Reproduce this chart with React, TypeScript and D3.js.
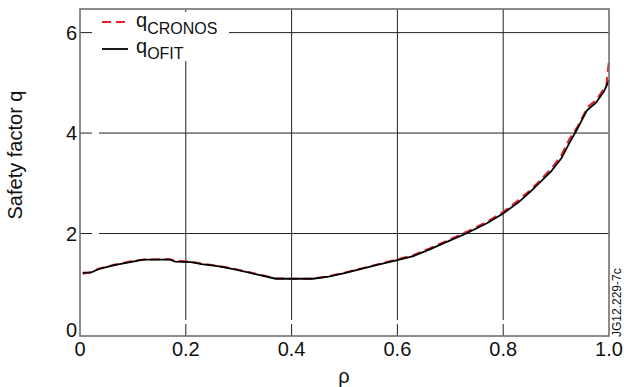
import React from 'react'
import * as d3 from 'd3'

// ρ grid and q profiles
const rhoOfit = [0.005, 0.02, 0.035, 0.05, 0.065, 0.08, 0.1, 0.12, 0.15, 0.17, 0.18, 0.21, 0.23, 0.26, 0.29, 0.32, 0.34, 0.37, 0.4, 0.44, 0.47, 0.5, 0.53, 0.56, 0.6, 0.63, 0.66, 0.69, 0.73, 0.77, 0.8, 0.83, 0.855, 0.89, 0.91, 0.925, 0.94, 0.958, 0.975, 0.99, 1.0]
const qOfit = [1.22, 1.22, 1.29, 1.33, 1.37, 1.4, 1.44, 1.48, 1.48, 1.48, 1.44, 1.43, 1.39, 1.35, 1.29, 1.22, 1.17, 1.1, 1.1, 1.1, 1.14, 1.21, 1.29, 1.37, 1.47, 1.55, 1.68, 1.82, 2.0, 2.21, 2.4, 2.63, 2.87, 3.23, 3.5, 3.8, 4.08, 4.45, 4.6, 4.82, 5.05]

const rhoCronos = [0.005, 0.02, 0.035, 0.05, 0.065, 0.08, 0.1, 0.12, 0.15, 0.17, 0.18, 0.21, 0.23, 0.26, 0.29, 0.32, 0.34, 0.37, 0.4, 0.44, 0.47, 0.5, 0.53, 0.56, 0.6, 0.63, 0.66, 0.69, 0.73, 0.77, 0.8, 0.83, 0.855, 0.89, 0.91, 0.925, 0.94, 0.96, 0.975, 0.995, 1.0]
const qCronos = [1.2, 1.23, 1.3, 1.34, 1.38, 1.41, 1.46, 1.48, 1.49, 1.49, 1.46, 1.44, 1.4, 1.36, 1.3, 1.23, 1.18, 1.11, 1.1, 1.1, 1.15, 1.22, 1.3, 1.38, 1.49, 1.57, 1.7, 1.84, 2.03, 2.24, 2.43, 2.67, 2.9, 3.28, 3.56, 3.88, 4.12, 4.52, 4.65, 4.95, 5.45]

const xTicks = [0, 0.2, 0.4, 0.6, 0.8, 1.0]
const yTicks = [0, 2, 4, 6]

const FONT = "'Liberation Sans', Arial, sans-serif"

export default function App() {
  const left = 80, right = 609, top = 9, bottom = 336
  const x = d3.scaleLinear().domain([0, 1]).range([left, right])
  const y = d3.scaleLinear().domain([-0.04, 6.47]).range([bottom, top])

  const lineGen = d3.line<[number, number]>()
    .x(d => x(d[0]))
    .y(d => y(d[1]))
  const pathOfit = lineGen(rhoOfit.map((r, i) => [r, qOfit[i]]))
  const pathCronos = lineGen(rhoCronos.map((r, i) => [r, qCronos[i]]))

  const gridColor = '#222'
  const axisColor = '#707070'

  return (
    <svg width={624} height={387} style={{ position: 'absolute', left: 0, top: 0, background: '#fff' }} fontFamily={FONT}>
      {/* horizontal grid + inward ticks */}
      {yTicks.filter(t => t > 0).map(t => (
        <g key={'h' + t}>
          <line x1={left} x2={left + 12} y1={y(t)} y2={y(t)} stroke={gridColor} strokeWidth={1} />
          <line x1={left + 19} x2={right} y1={y(t)} y2={y(t)} stroke={gridColor} strokeWidth={1} />
        </g>
      ))}
      {/* vertical grid + inward ticks */}
      {xTicks.filter(t => t > 0 && t < 1).map(t => (
        <g key={'v' + t}>
          <line x1={x(t)} x2={x(t)} y1={bottom} y2={bottom - 12} stroke={gridColor} strokeWidth={1} />
          <line x1={x(t)} x2={x(t)} y1={bottom - 16} y2={top} stroke={gridColor} strokeWidth={1} />
        </g>
      ))}

      {/* legend background */}
      <rect x={92} y={12} width={137} height={49} fill="#fff" />

      {/* curves */}
      <path d={pathCronos ?? ''} fill="none" stroke="#e3202b" strokeWidth={2} strokeDasharray="9,5" />
      <path d={pathOfit ?? ''} fill="none" stroke="#000" strokeWidth={1.8} />

      {/* frame */}
      <rect x={left} y={top} width={right - left} height={bottom - top} fill="none" stroke={axisColor} strokeWidth={1.6} />

      {/* y tick labels */}
      {yTicks.map(t => (
        <text key={'yl' + t} x={77} y={t === 0 ? bottom + 1 : y(t) + 7} textAnchor="end" fontSize={20} fill="#111">{t}</text>
      ))}
      {/* x tick labels */}
      {xTicks.map(t => (
        <text key={'xl' + t} x={x(t)} y={356} textAnchor="middle" fontSize={20} fill="#111">{t === 0 ? '0' : t.toFixed(1)}</text>
      ))}

      {/* axis titles */}
      <text x={344} y={383} textAnchor="middle" fontSize={20} fill="#111">ρ</text>
      <text transform="translate(22,155) rotate(-90)" textAnchor="middle" fontSize={20} fill="#111">Safety factor q</text>

      {/* legend */}
      <line x1={102} x2={128} y1={22} y2={22} stroke="#e3202b" strokeWidth={2} strokeDasharray="9,5" />
      <text x={136} y={27} fontSize={20} fill="#111">q<tspan fontSize={16} dy={7}>CRONOS</tspan></text>
      <line x1={102} x2={128} y1={49} y2={49} stroke="#000" strokeWidth={1.8} />
      <text x={136} y={53} fontSize={20} fill="#111">q<tspan fontSize={16} dy={6}>OFIT</tspan></text>

      {/* figure id */}
      <text transform="translate(621,337) rotate(-90)" fontSize={12} fill="#111">JG12.229-7c</text>
    </svg>
  )
}
